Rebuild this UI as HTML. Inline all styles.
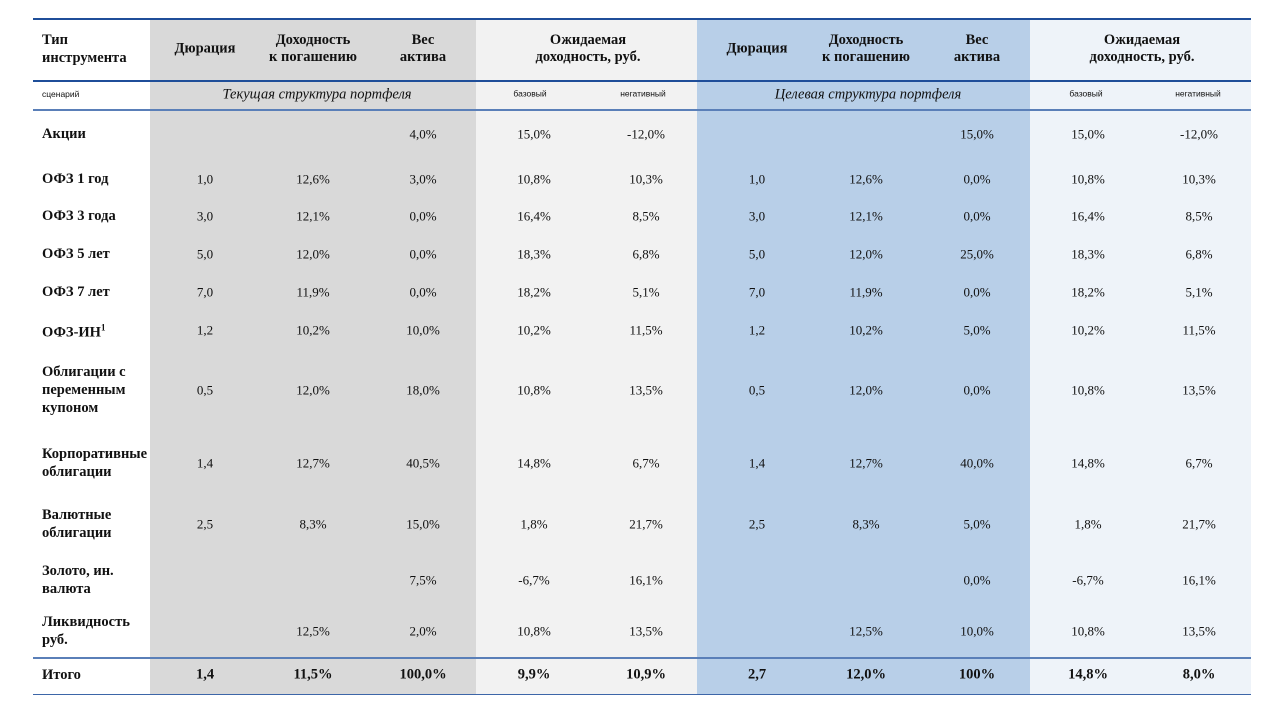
<!DOCTYPE html>
<html><head><meta charset="utf-8"><style>
body{margin:0;width:1280px;height:720px;background:#fff;position:relative;overflow:hidden;font-family:"Liberation Serif",serif;color:#111;}
.bg{position:absolute;top:18px;height:676px;}
.ln{position:absolute;left:33px;width:1218px;}
.t{position:absolute;transform:translate(-50%,-50%);white-space:nowrap;font-size:13px;text-align:center;line-height:17px;}
.l{position:absolute;left:42px;transform:translateY(-50%);font-size:14.5px;font-weight:bold;line-height:18px;white-space:nowrap;}
.b{font-weight:bold;font-size:14.5px;}
.s{font-family:"Liberation Sans",sans-serif;font-size:8.5px;}
.i{font-style:italic;font-size:14.5px;}
</style></head><body>
<div class="bg" style="left:150px;width:326px;background:#d9d9d9"></div>
<div class="bg" style="left:476px;width:221px;background:#f2f2f2"></div>
<div class="bg" style="left:697px;width:333px;background:#b8cfe8"></div>
<div class="bg" style="left:1030px;width:221px;background:#eef3f9"></div>
<div class="ln" style="top:18px;height:1.5px;background:#1f4e99"></div>
<div class="ln" style="top:80px;height:1.5px;background:#1f4e99"></div>
<div class="ln" style="top:108.5px;height:2px;background:#5a7fb8"></div>
<div class="ln" style="top:656.5px;height:2px;background:#5a7fb8"></div>
<div class="ln" style="top:693.5px;height:1.5px;background:#3d66a8"></div>

<div class="l" style="top:49px">Тип<br>инструмента</div>
<div class="t b" style="left:205px;top:49px">Дюрация</div>
<div class="t b" style="left:313px;top:49px">Доходность<br>к погашению</div>
<div class="t b" style="left:423px;top:49px">Вес<br>актива</div>
<div class="t b" style="left:588px;top:49px">Ожидаемая<br>доходность, руб.</div>
<div class="t b" style="left:757px;top:49px">Дюрация</div>
<div class="t b" style="left:866px;top:49px">Доходность<br>к погашению</div>
<div class="t b" style="left:977px;top:49px">Вес<br>актива</div>
<div class="t b" style="left:1142px;top:49px">Ожидаемая<br>доходность, руб.</div>

<div class="l s" style="top:94px;font-weight:normal">сценарий</div>
<div class="t i" style="left:317px;top:95px">Текущая структура портфеля</div>
<div class="t s" style="left:530px;top:94px">базовый</div>
<div class="t s" style="left:643px;top:94px">негативный</div>
<div class="t i" style="left:868px;top:95px">Целевая структура портфеля</div>
<div class="t s" style="left:1086px;top:94px">базовый</div>
<div class="t s" style="left:1198px;top:94px">негативный</div>

<div class="l" style="top:134px">Акции</div>
<div class="t" style="left:423px;top:134px">4,0%</div><div class="t" style="left:534px;top:134px">15,0%</div><div class="t" style="left:646px;top:134px">-12,0%</div>
<div class="t" style="left:977px;top:134px">15,0%</div><div class="t" style="left:1088px;top:134px">15,0%</div><div class="t" style="left:1199px;top:134px">-12,0%</div>

<div class="l" style="top:179px">ОФЗ 1 год</div>
<div class="t" style="left:205px;top:179px">1,0</div><div class="t" style="left:313px;top:179px">12,6%</div><div class="t" style="left:423px;top:179px">3,0%</div><div class="t" style="left:534px;top:179px">10,8%</div><div class="t" style="left:646px;top:179px">10,3%</div>
<div class="t" style="left:757px;top:179px">1,0</div><div class="t" style="left:866px;top:179px">12,6%</div><div class="t" style="left:977px;top:179px">0,0%</div><div class="t" style="left:1088px;top:179px">10,8%</div><div class="t" style="left:1199px;top:179px">10,3%</div>

<div class="l" style="top:216px">ОФЗ 3 года</div>
<div class="t" style="left:205px;top:216px">3,0</div><div class="t" style="left:313px;top:216px">12,1%</div><div class="t" style="left:423px;top:216px">0,0%</div><div class="t" style="left:534px;top:216px">16,4%</div><div class="t" style="left:646px;top:216px">8,5%</div>
<div class="t" style="left:757px;top:216px">3,0</div><div class="t" style="left:866px;top:216px">12,1%</div><div class="t" style="left:977px;top:216px">0,0%</div><div class="t" style="left:1088px;top:216px">16,4%</div><div class="t" style="left:1199px;top:216px">8,5%</div>

<div class="l" style="top:254px">ОФЗ 5 лет</div>
<div class="t" style="left:205px;top:254px">5,0</div><div class="t" style="left:313px;top:254px">12,0%</div><div class="t" style="left:423px;top:254px">0,0%</div><div class="t" style="left:534px;top:254px">18,3%</div><div class="t" style="left:646px;top:254px">6,8%</div>
<div class="t" style="left:757px;top:254px">5,0</div><div class="t" style="left:866px;top:254px">12,0%</div><div class="t" style="left:977px;top:254px">25,0%</div><div class="t" style="left:1088px;top:254px">18,3%</div><div class="t" style="left:1199px;top:254px">6,8%</div>

<div class="l" style="top:292px">ОФЗ 7 лет</div>
<div class="t" style="left:205px;top:292px">7,0</div><div class="t" style="left:313px;top:292px">11,9%</div><div class="t" style="left:423px;top:292px">0,0%</div><div class="t" style="left:534px;top:292px">18,2%</div><div class="t" style="left:646px;top:292px">5,1%</div>
<div class="t" style="left:757px;top:292px">7,0</div><div class="t" style="left:866px;top:292px">11,9%</div><div class="t" style="left:977px;top:292px">0,0%</div><div class="t" style="left:1088px;top:292px">18,2%</div><div class="t" style="left:1199px;top:292px">5,1%</div>

<div class="l" style="top:330px">ОФЗ-ИН<sup style="font-size:9px">1</sup></div>
<div class="t" style="left:205px;top:330px">1,2</div><div class="t" style="left:313px;top:330px">10,2%</div><div class="t" style="left:423px;top:330px">10,0%</div><div class="t" style="left:534px;top:330px">10,2%</div><div class="t" style="left:646px;top:330px">11,5%</div>
<div class="t" style="left:757px;top:330px">1,2</div><div class="t" style="left:866px;top:330px">10,2%</div><div class="t" style="left:977px;top:330px">5,0%</div><div class="t" style="left:1088px;top:330px">10,2%</div><div class="t" style="left:1199px;top:330px">11,5%</div>

<div class="l" style="top:390px">Облигации с<br>переменным<br>купоном</div>
<div class="t" style="left:205px;top:390px">0,5</div><div class="t" style="left:313px;top:390px">12,0%</div><div class="t" style="left:423px;top:390px">18,0%</div><div class="t" style="left:534px;top:390px">10,8%</div><div class="t" style="left:646px;top:390px">13,5%</div>
<div class="t" style="left:757px;top:390px">0,5</div><div class="t" style="left:866px;top:390px">12,0%</div><div class="t" style="left:977px;top:390px">0,0%</div><div class="t" style="left:1088px;top:390px">10,8%</div><div class="t" style="left:1199px;top:390px">13,5%</div>

<div class="l" style="top:463px">Корпоративные<br>облигации</div>
<div class="t" style="left:205px;top:463px">1,4</div><div class="t" style="left:313px;top:463px">12,7%</div><div class="t" style="left:423px;top:463px">40,5%</div><div class="t" style="left:534px;top:463px">14,8%</div><div class="t" style="left:646px;top:463px">6,7%</div>
<div class="t" style="left:757px;top:463px">1,4</div><div class="t" style="left:866px;top:463px">12,7%</div><div class="t" style="left:977px;top:463px">40,0%</div><div class="t" style="left:1088px;top:463px">14,8%</div><div class="t" style="left:1199px;top:463px">6,7%</div>

<div class="l" style="top:524px">Валютные<br>облигации</div>
<div class="t" style="left:205px;top:524px">2,5</div><div class="t" style="left:313px;top:524px">8,3%</div><div class="t" style="left:423px;top:524px">15,0%</div><div class="t" style="left:534px;top:524px">1,8%</div><div class="t" style="left:646px;top:524px">21,7%</div>
<div class="t" style="left:757px;top:524px">2,5</div><div class="t" style="left:866px;top:524px">8,3%</div><div class="t" style="left:977px;top:524px">5,0%</div><div class="t" style="left:1088px;top:524px">1,8%</div><div class="t" style="left:1199px;top:524px">21,7%</div>

<div class="l" style="top:580px">Золото, ин.<br>валюта</div>
<div class="t" style="left:423px;top:580px">7,5%</div><div class="t" style="left:534px;top:580px">-6,7%</div><div class="t" style="left:646px;top:580px">16,1%</div>
<div class="t" style="left:977px;top:580px">0,0%</div><div class="t" style="left:1088px;top:580px">-6,7%</div><div class="t" style="left:1199px;top:580px">16,1%</div>

<div class="l" style="top:631px">Ликвидность<br>руб.</div>
<div class="t" style="left:313px;top:631px">12,5%</div><div class="t" style="left:423px;top:631px">2,0%</div><div class="t" style="left:534px;top:631px">10,8%</div><div class="t" style="left:646px;top:631px">13,5%</div>
<div class="t" style="left:866px;top:631px">12,5%</div><div class="t" style="left:977px;top:631px">10,0%</div><div class="t" style="left:1088px;top:631px">10,8%</div><div class="t" style="left:1199px;top:631px">13,5%</div>

<div class="l" style="top:675px">Итого</div>
<div class="t b" style="left:205px;top:675px">1,4</div><div class="t b" style="left:313px;top:675px">11,5%</div><div class="t b" style="left:423px;top:675px">100,0%</div><div class="t b" style="left:534px;top:675px">9,9%</div><div class="t b" style="left:646px;top:675px">10,9%</div>
<div class="t b" style="left:757px;top:675px">2,7</div><div class="t b" style="left:866px;top:675px">12,0%</div><div class="t b" style="left:977px;top:675px">100%</div><div class="t b" style="left:1088px;top:675px">14,8%</div><div class="t b" style="left:1199px;top:675px">8,0%</div>
</body></html>
